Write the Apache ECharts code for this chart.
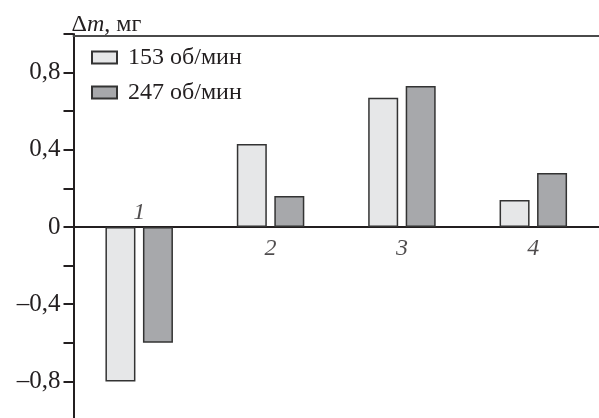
<!DOCTYPE html>
<html>
<head>
<meta charset="utf-8">
<script src="https://cdn.jsdelivr.net/npm/echarts@6/dist/echarts.min.js"></script>
<style>
  html, body { margin: 0; padding: 0; background: #fff; }
  #chart { width: 599px; height: 418px; }
</style>
</head>
<body>
<div id="chart"></div>
<script>
// Categories and measured mass change (mg) at two rotation speeds
const categories = ['1', '2', '3', '4'];
const seriesNames = ['153 об/мин', '247 об/мин'];
const values153 = [-0.80, 0.43, 0.67, 0.14];
const values247 = [-0.60, 0.16, 0.73, 0.28];
const labeledTicks = [-0.8, -0.4, 0, 0.4, 0.8];

const serif = '"Liberation Serif", "DejaVu Serif", serif';
const ink = '#231f20';

function fmtTick(v) {
  const r = Math.round(v * 10) / 10;
  if (!labeledTicks.some(t => Math.abs(t - r) < 1e-6)) return '';
  if (r === 0) return '0';
  const s = Math.abs(r).toFixed(1).replace('.', ',');
  return (r < 0 ? '–' : '') + s;
}

// Category numbers sit on the zero line: above it where the bars go down, below otherwise
const categoryMarks = categories.map((c, i) => {
  const down = Math.min(values153[i], values247[i]) < 0;
  return {
    value: [i, 0],
    name: c,
    label: down ? { position: 'top', distance: 2 } : { position: 'bottom', distance: 10 }
  };
});

const chart = echarts.init(document.getElementById('chart'), null, { renderer: 'canvas' });

chart.setOption({
  animation: false,
  backgroundColor: '#fff',
  grid: { left: 73.5, right: 0, top: 34, height: 386, containLabel: false, outerBoundsMode: 'none' },
  legend: {
    orient: 'vertical',
    left: 91,
    top: 45,
    padding: 0,
    itemWidth: 25,
    itemHeight: 12,
    itemGap: 10,
    icon: 'rect',
    selectedMode: false,
    textStyle: { fontFamily: serif, fontSize: 24, color: ink, padding: [0, 0, 0, 6], lineHeight: 25 },
    data: seriesNames
  },
  xAxis: [
    {
      type: 'category',
      data: categories,
      position: 'bottom',
      axisTick: { show: false },
      axisLabel: { show: false },
      splitLine: { show: false },
      axisLine: { show: true, onZero: true, lineStyle: { color: ink, width: 2 } }
    },
    {
      type: 'category',
      data: categories,
      position: 'top',
      offset: -1.5,
      axisTick: { show: false },
      axisLabel: { show: false },
      splitLine: { show: false },
      axisLine: { show: true, onZero: false, lineStyle: { color: '#4a4a4a', width: 2 } }
    }
  ],
  yAxis: {
    type: 'value',
    min: -1,
    max: 1,
    interval: 0.2,
    name: 'Δ{i|m}, мг',
    nameLocation: 'end',
    nameGap: 9,
    nameTextStyle: {
      fontFamily: serif, fontSize: 24, color: ink, align: 'left', verticalAlign: 'middle',
      padding: [0, 0, 0, -2],
      rich: { i: { fontFamily: serif, fontStyle: 'italic', fontSize: 24, color: ink } }
    },
    axisLine: { show: true, lineStyle: { color: ink, width: 2 } },
    axisTick: { show: true, inside: false, length: 10, lineStyle: { color: ink, width: 2 } },
    axisLabel: { margin: 13, fontFamily: serif, fontSize: 25, color: ink, formatter: fmtTick, showMinLabel: true, showMaxLabel: true },
    splitLine: { show: false }
  },
  series: [
    {
      name: seriesNames[0],
      type: 'bar',
      data: values153,
      barWidth: 30,
      barGap: '25%',
      itemStyle: { color: '#e6e7e8', borderColor: '#333', borderWidth: 1.5 }
    },
    {
      name: seriesNames[1],
      type: 'bar',
      data: values247,
      barWidth: 30,
      barGap: '25%',
      itemStyle: { color: '#a7a8ab', borderColor: '#333', borderWidth: 1.5 }
    },
    {
      name: 'categoryNumbers',
      type: 'scatter',
      xAxisIndex: 0,
      yAxisIndex: 0,
      symbolSize: 0,
      silent: true,
      z: 5,
      data: categoryMarks,
      label: {
        show: true,
        formatter: p => p.name,
        fontFamily: serif, fontStyle: 'italic', fontSize: 24, color: ink
      }
    }
  ]
});
</script>
</body>
</html>
